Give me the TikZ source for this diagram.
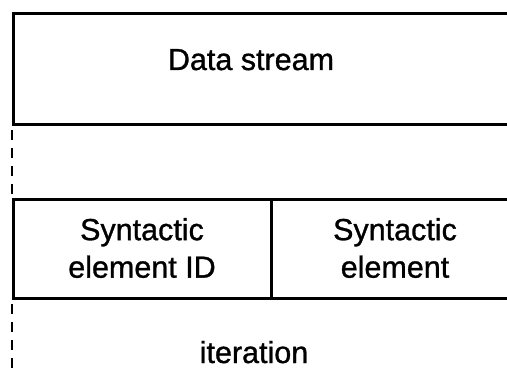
\documentclass[tikz,border=0pt]{standalone}
\usepackage{fontspec}
\setmainfont{Liberation Sans}
\newfontfamily\lblfont{Liberation Sans}[FakeBold=1]
\begin{document}
\begin{tikzpicture}[x=1pt,y=-1pt,
  frame/.style={draw, line width=3pt, rectangle, inner sep=0pt, anchor=north west},
  lbl/.style={font=\lblfont\fontsize{30.5}{37.5}\selectfont, align=center, inner sep=0pt},
  loopline/.style={line width=2.5pt, dash pattern=on 10pt off 8pt, dash phase=-4pt}]
  \useasboundingbox (0,0) rectangle (507,369);
  \clip (0,0) rectangle (507,369);
  % boxes (they run past the right edge)
  \node[frame, minimum width=508pt, minimum height=111pt] (stream) at (12,12) {};
  \node[frame, minimum width=258pt, minimum height=99pt] (id) at (12,198) {};
  \node[frame, minimum width=250pt, minimum height=99pt] (elem) at (270,198) {};
  % labels
  \node[lbl, anchor=base] (streamtext) at (251,70) {Data stream};
  \node[lbl] (idtext) at (142,248) {Syntactic\\element ID};
  \node[lbl] (elemtext) at (395,248) {Syntactic\\element};
  \node[lbl, anchor=base] (itertext) at (254,363) {iteration};
  % iteration markers
  \coordinate (loopend) at (12,369);
  \draw[loopline] (stream.south west) -- (id.north west);
  \draw[loopline] (id.south west) -- (loopend);
\end{tikzpicture}
\end{document}
